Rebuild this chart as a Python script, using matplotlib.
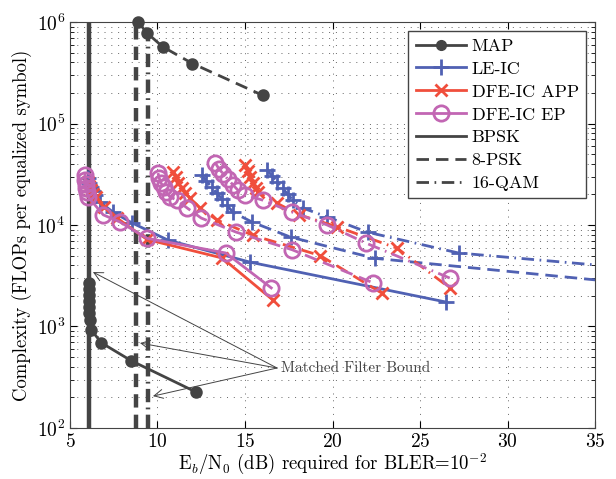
import numpy as np
import matplotlib as mpl
mpl.use('Agg')
import matplotlib.pyplot as plt
from matplotlib.lines import Line2D

mpl.rcParams['font.family'] = 'serif'
mpl.rcParams['font.serif'] = ['cmr10', 'DejaVu Serif']
mpl.rcParams['mathtext.fontset'] = 'cm'
mpl.rcParams['axes.formatter.use_mathtext'] = True
mpl.rcParams['axes.unicode_minus'] = False

# colours
gray = '#444444'
blue = '#5061b3'
red = '#f04e3c'
mag = '#c266b3'

# matched filter bounds (vertical lines)
mfb_bpsk = 6.1
mfb_8psk = 8.77
mfb_16qam = 9.46

# MAP
map_bpsk_x = [6.08, 6.08, 6.09, 6.09, 6.1, 6.1, 6.12, 6.2, 6.8, 8.5, 12.2]
map_bpsk_y = [2700, 2350, 2050, 1800, 1550, 1350, 1150, 930, 690, 460, 226]
map_8psk_x = [8.9, 9.4, 10.3, 12.0, 16.0]
map_8psk_y = [1.0e6, 7.8e5, 5.7e5, 3.9e5, 1.9e5]

# LE-IC
le_bpsk_x = [6.03, 6.1, 6.2, 6.3, 6.43, 6.7, 7.46, 8.54, 10.6, 15.3, 26.5]
le_bpsk_y = [2.9e4, 2.6e4, 2.35e4, 2.15e4, 1.98e4, 1.69e4, 1.34e4, 1.05e4, 7.1e3, 4.3e3, 1.74e3]
le_8psk_x = [12.54, 12.8, 13.1, 13.4, 13.7, 13.97, 14.3, 15.4, 17.6, 22.4, 36.0]
le_8psk_y = [3.1e4, 2.7e4, 2.35e4, 2.05e4, 1.8e4, 1.57e4, 1.34e4, 1.07e4, 7.6e3, 4.7e3, 2.77e3]
le_16qam_x = [16.26, 16.55, 16.85, 17.15, 17.45, 17.74, 18.3, 19.7, 22.0, 27.2, 40.0]
le_16qam_y = [3.48e4, 3.05e4, 2.65e4, 2.3e4, 2.0e4, 1.76e4, 1.47e4, 1.2e4, 8.5e3, 5.3e3, 3.4e3]

# DFE-IC APP
app_bpsk_x = [6.03, 6.1, 6.2, 6.3, 6.49, 6.94, 7.69, 9.4, 13.7, 16.6]
app_bpsk_y = [2.65e4, 2.4e4, 2.2e4, 2.0e4, 1.89e4, 1.5e4, 1.17e4, 7.2e3, 4.73e3, 1.82e3]
app_8psk_x = [10.9, 11.05, 11.2, 11.4, 11.6, 11.86, 12.43, 13.4, 15.46, 19.3, 22.8]
app_8psk_y = [3.3e4, 2.95e4, 2.6e4, 2.3e4, 2.05e4, 1.85e4, 1.47e4, 1.12e4, 7.9e3, 5.0e3, 2.14e3]
app_16qam_x = [15.0, 15.15, 15.3, 15.45, 15.6, 15.74, 16.8, 18.1, 20.26, 23.7, 26.7]
app_16qam_y = [3.9e4, 3.4e4, 3.0e4, 2.6e4, 2.3e4, 2.1e4, 1.65e4, 1.26e4, 9.6e3, 5.9e3, 2.4e3]

# DFE-IC EP
ep_bpsk_x = [5.86, 5.87, 5.9, 5.93, 5.97, 6.03, 6.9, 7.86, 9.4, 13.9, 16.5]
ep_bpsk_y = [3.1e4, 2.8e4, 2.55e4, 2.3e4, 2.1e4, 1.9e4, 1.26e4, 1.07e4, 7.4e3, 5.3e3, 2.4e3]
ep_8psk_x = [10.03, 10.1, 10.2, 10.35, 10.5, 10.7, 11.1, 11.7, 12.5, 14.5, 17.7, 22.3]
ep_8psk_y = [3.25e4, 2.9e4, 2.6e4, 2.35e4, 2.1e4, 1.9e4, 1.76e4, 1.47e4, 1.17e4, 8.5e3, 5.7e3, 2.7e3]
ep_16qam_x = [13.3, 13.5, 13.75, 14.0, 14.3, 14.6, 15.0, 16.0, 17.7, 19.7, 21.9, 26.7]
ep_16qam_y = [4.1e4, 3.6e4, 3.2e4, 2.85e4, 2.5e4, 2.2e4, 1.98e4, 1.76e4, 1.34e4, 1.0e4, 6.65e3, 3.0e3]

# matched filter bound annotation
mfb_text_xy = (16.83, 390)
mfb_arrow_heads = [(6.31, 3440), (9.0, 687), (9.74, 206)]

fig = plt.figure(figsize=(6.16, 4.79), dpi=100)
ax = fig.add_axes([0.1136, 0.1065, 0.8524, 0.8475])

lw_v = 3.2
ax.axvline(mfb_bpsk, color=gray, lw=lw_v, ls='-')
ax.axvline(mfb_8psk, color=gray, lw=lw_v, ls=(0, (3.0, 1.6)))
ax.axvline(mfb_16qam, color=gray, lw=lw_v, ls=(0, (3.0, 1.2, 0.4, 1.2)))

lw = 2.0
styles = {'bpsk': '-', '8psk': (0, (4.5, 2.5)), '16qam': (0, (4.5, 2.0, 0.6, 2.0))}

def curve(x, y, color, marker, ls, ms, mfc=None, clip=True):
    ax.plot(x, y, color=color, lw=lw, ls=ls, marker=marker, ms=ms, mew=2.0,
            mfc=color if mfc is None else mfc, mec=color, clip_on=clip)

curve(map_bpsk_x, map_bpsk_y, gray, 'o', styles['bpsk'], 7, clip=False)
curve(map_8psk_x, map_8psk_y, gray, 'o', styles['8psk'], 7, clip=False)

curve(le_bpsk_x, le_bpsk_y, blue, '+', styles['bpsk'], 11)
curve(le_8psk_x, le_8psk_y, blue, '+', styles['8psk'], 11)
curve(le_16qam_x, le_16qam_y, blue, '+', styles['16qam'], 11)

curve(app_bpsk_x, app_bpsk_y, red, 'x', styles['bpsk'], 8)
curve(app_8psk_x, app_8psk_y, red, 'x', styles['8psk'], 8)
curve(app_16qam_x, app_16qam_y, red, 'x', styles['16qam'], 8)

curve(ep_bpsk_x, ep_bpsk_y, mag, 'o', styles['bpsk'], 11, 'none')
curve(ep_8psk_x, ep_8psk_y, mag, 'o', styles['8psk'], 11, 'none')
curve(ep_16qam_x, ep_16qam_y, mag, 'o', styles['16qam'], 11, 'none')

for head in mfb_arrow_heads:
    ax.annotate('', xy=head, xytext=mfb_text_xy,
                arrowprops=dict(arrowstyle='->', color=gray, lw=0.7,
                                mutation_scale=16, shrinkA=0, shrinkB=0))
ax.text(mfb_text_xy[0] + 0.2, mfb_text_xy[1], 'Matched Filter Bound',
        fontsize=11, color=gray, va='center', ha='left')

ax.set_yscale('log')
ax.set_xlim(5, 35)
ax.set_ylim(1e2, 1e6)
ax.set_xticks([5, 10, 15, 20, 25, 30, 35])
ax.grid(True, which='major', axis='both', ls=(0, (1, 6)), color='#666666', lw=0.7)
ax.grid(True, which='minor', axis='y', ls=(0, (1, 6)), color='#666666', lw=0.7)
ax.tick_params(which='both', direction='in', top=True, right=True, labelsize=14)
ax.tick_params(which='major', length=5)
ax.tick_params(which='minor', length=3)
ax.set_xlabel(r'E$_b$/N$_0$ (dB) required for BLER=10$^{-2}$', fontsize=13.5, labelpad=1)
ax.set_ylabel('Complexity (FLOPs per equalized symbol)', fontsize=13.5, labelpad=3)
for s in ax.spines.values():
    s.set_color(gray)

handles = [
    Line2D([], [], color=gray, lw=lw, marker='o', ms=7),
    Line2D([], [], color=blue, lw=lw, marker='+', ms=11, mew=2),
    Line2D([], [], color=red, lw=lw, marker='x', ms=8, mew=2),
    Line2D([], [], color=mag, lw=lw, marker='o', ms=11, mew=2, mfc='none'),
    Line2D([], [], color=gray, lw=lw, ls='-'),
    Line2D([], [], color=gray, lw=lw, ls=styles['8psk']),
    Line2D([], [], color=gray, lw=lw, ls=styles['16qam']),
]
labels = ['MAP', 'LE-IC', 'DFE-IC APP', 'DFE-IC EP', 'BPSK', '8-PSK', '16-QAM']
leg = ax.legend(handles, labels, loc='upper right', fontsize=13, fancybox=False,
                framealpha=1, edgecolor=gray, handlelength=2.8, borderaxespad=0.5,
                labelspacing=0.4, handletextpad=0.3)
leg.get_frame().set_linewidth(1.0)

fig.savefig('out.png', dpi=100)
